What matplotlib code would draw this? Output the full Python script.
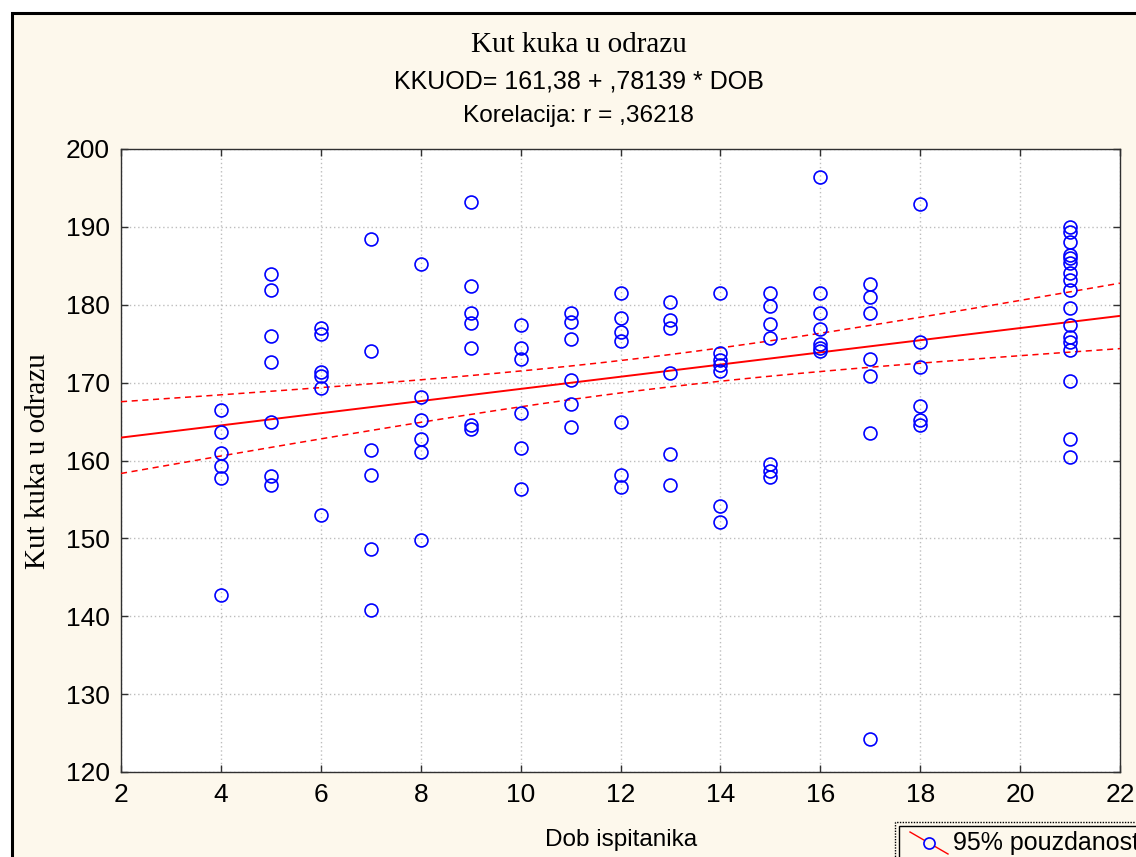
import numpy as np
import matplotlib
matplotlib.use("Agg")
import matplotlib.pyplot as plt
from matplotlib.lines import Line2D
from matplotlib.patches import Rectangle

# ---- text ----
TITLE = "Kut kuka u odrazu"
EQUATION = "KKUOD= 161,38 + ,78139 * DOB"
CORRELATION = "Korelacija: r = ,36218"
X_LABEL = "Dob ispitanika"
Y_LABEL = "Kut kuka u odrazu"
LEGEND_LABEL = "95% pouzdanost"

# ---- regression from the equation ----
INTERCEPT = 161.38
SLOPE = 0.78139
T_CRIT = 1.98  # two-sided 95 %, ~116 df

x_ticks = [2, 4, 6, 8, 10, 12, 14, 16, 18, 20, 22]
y_ticks = [120, 130, 140, 150, 160, 170, 180, 190, 200]

# ---- measurements grouped by age (DOB) ----
ages = [4, 5, 6, 7, 8, 9, 10, 11, 12, 13, 14, 15, 16, 17, 18, 21]
kkuod_4 = [166.5, 163.7, 160.9, 159.3, 157.7, 142.7]
kkuod_5 = [183.9, 181.9, 176.0, 172.6, 165.0, 158.0, 156.8]
kkuod_6 = [177.0, 176.3, 171.4, 170.9, 169.3, 153.0]
kkuod_7 = [188.4, 174.1, 161.3, 158.1, 148.6, 140.8]
kkuod_8 = [185.2, 168.2, 165.2, 162.8, 161.1, 149.8]
kkuod_9 = [193.2, 182.4, 179.0, 177.7, 174.5, 164.6, 164.1]
kkuod_10 = [177.4, 174.4, 173.0, 166.1, 161.6, 156.3]
kkuod_11 = [178.9, 177.8, 175.6, 170.3, 167.3, 164.3]
kkuod_12 = [181.5, 178.3, 176.5, 175.3, 164.9, 158.2, 156.6]
kkuod_13 = [180.4, 178.0, 177.0, 171.3, 160.8, 156.9]
kkuod_14 = [181.5, 173.8, 172.9, 172.3, 171.5, 154.2, 152.1]
kkuod_15 = [181.5, 179.8, 177.5, 175.7, 159.5, 158.6, 157.9]
kkuod_16 = [196.4, 181.5, 179.0, 176.9, 175.0, 174.4, 174.1]
kkuod_17 = [182.7, 181.0, 179.0, 173.0, 170.9, 163.5, 124.2]
kkuod_18 = [192.9, 175.2, 172.0, 167.0, 165.2, 164.5]
kkuod_21 = [190.0, 189.3, 188.1, 186.4, 186.0, 185.4, 184.1, 183.2, 181.9,
            179.6, 177.4, 175.9, 175.2, 174.2, 170.2, 162.8, 160.4]

groups = [kkuod_4, kkuod_5, kkuod_6, kkuod_7, kkuod_8, kkuod_9, kkuod_10,
          kkuod_11, kkuod_12, kkuod_13, kkuod_14, kkuod_15, kkuod_16,
          kkuod_17, kkuod_18, kkuod_21]

dob = np.concatenate([[a] * len(g) for a, g in zip(ages, groups)]).astype(float)
kkuod = np.concatenate(groups).astype(float)

# ---- colours ----
PAPER = "#FDF8EC"
POINT = "#0000FF"
LINE = "#FF0000"
GRID = "#BDBDBD"

W, H = 1136, 857
fig = plt.figure(figsize=(W / 100, H / 100), dpi=100)
fig.patch.set_facecolor("white")


def fx(px):
    return px / W


def fy(py):
    return 1 - py / H


# cream panel with black frame on the left/top
fig.patches.append(Rectangle((fx(12), fy(1000)), fx(1200), fy(13) - fy(1000),
                             transform=fig.transFigure, facecolor=PAPER,
                             edgecolor="black", linewidth=2.2, zorder=-5))

ax = fig.add_axes([fx(121), fy(772), fx(1120) - fx(121), fy(149) - fy(772)])
ax.set_zorder(1)
ax.set_facecolor("white")

ax.set_xlim(2, 22)
ax.set_ylim(120, 200)
ax.set_xticks(x_ticks)
ax.set_yticks(y_ticks)
ax.grid(True, color=GRID, linestyle=(0, (1, 2)), linewidth=1.0)
ax.set_axisbelow(True)

for sp in ax.spines.values():
    sp.set_color("#303030")
    sp.set_linewidth(1.0)

ax.tick_params(direction="in", length=5, width=1, color="#303030",
               top=True, right=True, labelsize=19, pad=8)
for lab in ax.get_xticklabels() + ax.get_yticklabels():
    lab.set_fontfamily("Liberation Sans")

# regression line with 95 % confidence band of the mean
n = len(dob)
resid = kkuod - (INTERCEPT + SLOPE * dob)
s = np.sqrt(np.sum(resid ** 2) / (n - 2))
xbar = dob.mean()
sxx = np.sum((dob - xbar) ** 2)
xs = np.linspace(2, 22, 300)
fit = INTERCEPT + SLOPE * xs
half = T_CRIT * s * np.sqrt(1.0 / n + (xs - xbar) ** 2 / sxx)

ax.plot(xs, fit, color=LINE, linewidth=1.4, zorder=3)
ax.plot(xs, fit + half, color=LINE, linewidth=1.1, linestyle=(0, (4, 3)), zorder=3)
ax.plot(xs, fit - half, color=LINE, linewidth=1.1, linestyle=(0, (4, 3)), zorder=3)

ax.plot(dob, kkuod, linestyle="none", marker="o", markersize=9.3,
        markerfacecolor="none", markeredgecolor=POINT, markeredgewidth=1.2,
        zorder=4, clip_on=False)

# titles
fig.text(fx(579), fy(45), TITLE, ha="center", va="center",
         fontsize=21, family="Liberation Serif")
fig.text(fx(579), fy(81), EQUATION, ha="center", va="center",
         fontsize=18, family="Liberation Sans")
fig.text(fx(578), fy(116), CORRELATION, ha="center", va="center",
         fontsize=17.6, family="Liberation Sans")

# axis labels
fig.text(fx(621), fy(840), X_LABEL, ha="center", va="center",
         fontsize=17.5, family="Liberation Sans")
fig.text(fx(38), fy(461), Y_LABEL, ha="center", va="center", rotation=90,
         fontsize=21, family="Liberation Serif")

# legend box (runs past the figure edge)
fig.patches.append(Rectangle((fx(895), fy(900)), fx(400), fy(822) - fy(900),
                             transform=fig.transFigure, facecolor=PAPER,
                             edgecolor="black", linewidth=1.0,
                             linestyle=(0, (1, 1)), zorder=5))
fig.patches.append(Rectangle((fx(899), fy(900)), fx(400), fy(826) - fy(900),
                             transform=fig.transFigure, facecolor="none",
                             edgecolor="black", linewidth=1.0, zorder=6))
fig.lines.append(Line2D([fx(910), fx(948)], [fy(832), fy(854)],
                        transform=fig.transFigure, color=LINE, linewidth=1.0,
                        zorder=7))
fig.lines.append(Line2D([fx(929)], [fy(843)], transform=fig.transFigure,
                        linestyle="none", marker="o", markersize=8,
                        markerfacecolor=PAPER, markeredgecolor=POINT,
                        markeredgewidth=1.2, zorder=8))
fig.text(fx(953), fy(843), LEGEND_LABEL, ha="left", va="center",
         fontsize=18, family="Liberation Sans", zorder=9)

fig.savefig("out.png", dpi=100, facecolor=fig.get_facecolor())
